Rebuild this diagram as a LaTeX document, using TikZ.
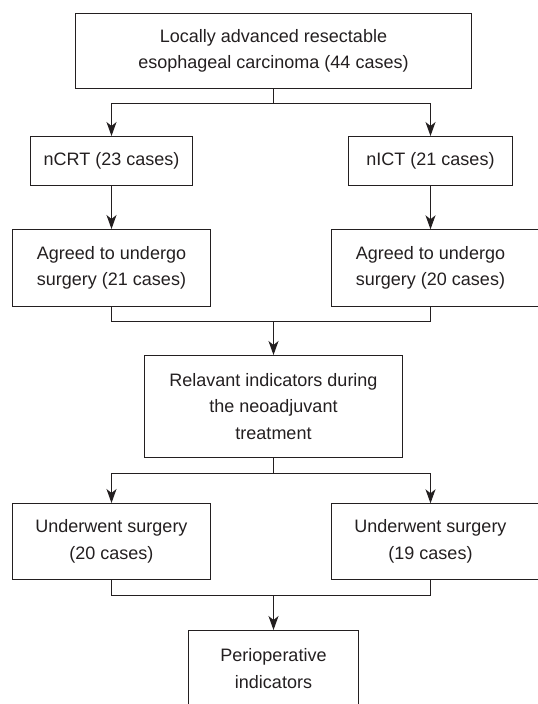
\documentclass[tikz,border=0pt]{standalone}
\usepackage{fontspec}
\setmainfont{Liberation Sans}
\usepackage{xcolor}
\usepackage{tikz}
\usetikzlibrary{arrows.meta}
\definecolor{fcink}{HTML}{231F20}
\tikzset{
  fc_node/.style = {align=center, inner sep=0pt, text centered, text=fcink,
    font=\fontsize{18}{26.6}\selectfont},
  fc_box/.style = {fc_node, rectangle, draw=fcink, line width=1pt},% closed box
  fc_open/.style = {fc_node, rectangle},% box running off the page, drawn apart
  fc_line/.style = {draw=fcink, line width=1pt}
}
\begin{document}
\begin{tikzpicture}[x=1pt,y=-1pt,>={Stealth[length=14pt,width=10pt,inset=4pt]}]
\useasboundingbox (0,0) rectangle (538,704);
\clip (0,0) rectangle (538,704);
% boxes
\node [fc_box, minimum width=396pt, minimum height=75pt] (top) at (273.5,51)
  {Locally advanced resectable\\esophageal carcinoma (44 cases)};
\node [fc_box, minimum width=162pt, minimum height=49pt] (ncrt) at (111.5,161)
  {nCRT (23 cases)};
\node [fc_box, minimum width=164pt, minimum height=49pt] (nict) at (430.5,161)
  {nICT (21 cases)};
\node [fc_box, minimum width=198pt, minimum height=77pt] (agr1) at (111.5,268)
  {Agreed to undergo\\surgery (21 cases)};
\node [fc_open, minimum width=198pt, minimum height=77pt] (agr2) at (430.5,268)
  {Agreed to undergo\\surgery (20 cases)};
\node [fc_box, minimum width=258pt, minimum height=102pt] (rel) at (273.5,406.5)
  {Relavant indicators during\\the neoadjuvant\\treatment};
\node [fc_box, minimum width=198pt, minimum height=76pt] (und1) at (111.5,541.5)
  {Underwent surgery\\(20 cases)};
\node [fc_open, minimum width=198pt, minimum height=76pt] (und2) at (430.5,541.5)
  {Underwent surgery\\(19 cases)};
\node [fc_box, minimum width=170pt, minimum height=76pt] (peri) at (273.5,668.5)
  {Perioperative\\indicators};
% right boxes are cut by the page edge
\draw [fc_line] ([xshift=30pt]agr2.north east) -- (agr2.north west)
  -- (agr2.south west) -- ([xshift=30pt]agr2.south east);
\draw [fc_line] ([xshift=30pt]und2.north east) -- (und2.north west)
  -- (und2.south west) -- ([xshift=30pt]und2.south east);
% joints
\coordinate (j1) at (273.5,103.5);
\coordinate (j2) at (273.5,321.5);
\coordinate (j3) at (273.5,473.5);
\coordinate (j4) at (273.5,595.5);
% connectors
\draw [fc_line] (top.south) -- (j1);
\draw [fc_line,->] (j1) -| (ncrt.north);
\draw [fc_line,->] (j1) -| (nict.north);
\draw [fc_line,->] (ncrt.south) -- (agr1.north);
\draw [fc_line,->] (nict.south) -- (agr2.north);
\draw [fc_line] (agr1.south) |- (j2) -| (agr2.south);
\draw [fc_line,->] (j2) -- (rel.north);
\draw [fc_line] (rel.south) -- (j3);
\draw [fc_line,->] (j3) -| (und1.north);
\draw [fc_line,->] (j3) -| (und2.north);
\draw [fc_line] (und1.south) |- (j4) -| (und2.south);
\draw [fc_line,->] (j4) -- (peri.north);
\end{tikzpicture}
\end{document}
